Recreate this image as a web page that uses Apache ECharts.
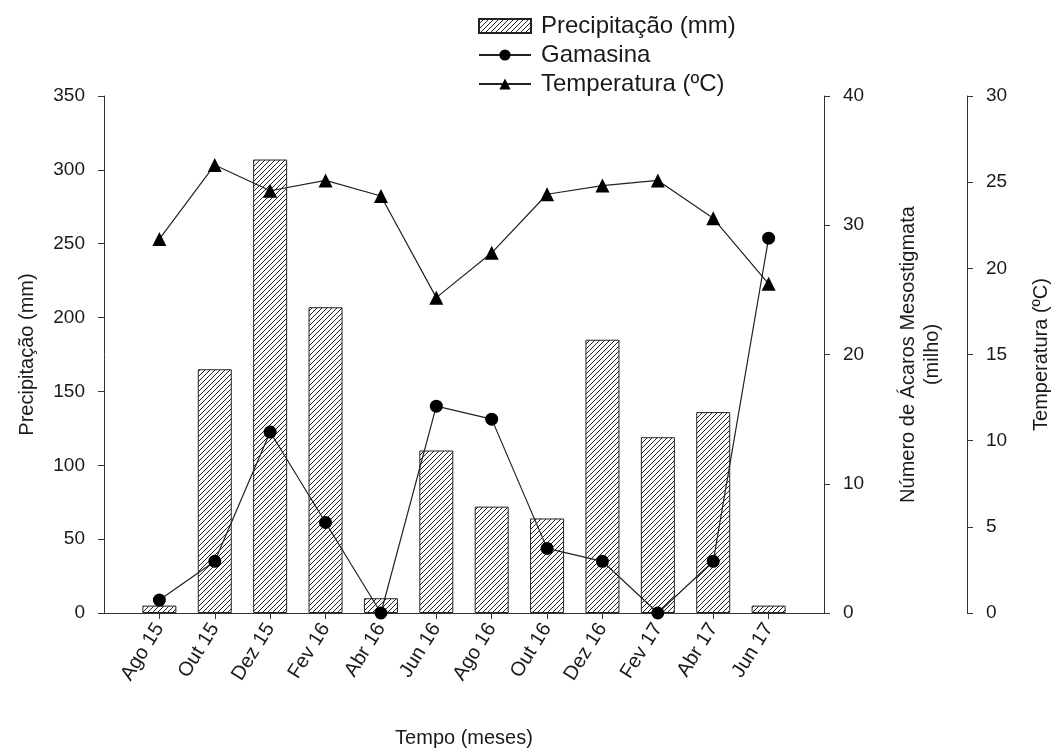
<!DOCTYPE html>
<html>
<head>
<meta charset="utf-8">
<script src="https://cdn.jsdelivr.net/npm/echarts@6/dist/echarts.min.js"></script>
<style>
  html, body { margin: 0; padding: 0; background: #fff; }
  #chart { width: 1056px; height: 756px; }
</style>
</head>
<body>
<div id="chart"></div>
<script>
// meses (bimestral)
const months = ["Ago 15", "Out 15", "Dez 15", "Fev 16", "Abr 16", "Jun 16",
  "Ago 16", "Out 16", "Dez 16", "Fev 17", "Abr 17", "Jun 17"];
const precip = [5, 165, 307, 207, 10, 110, 72, 64, 185, 119, 136, 5];
const gamasina = [1, 4, 14, 7, 0, 16, 15, 5, 4, 0, 4, 29];
const temperatura = [21.7, 26.0, 24.5, 25.1, 24.2, 18.3, 20.9, 24.3, 24.8, 25.1, 22.9, 19.1];

const font = "Liberation Sans";
const ink = "#1a1a1a";

// hachura diagonal das barras
function hatch() {
  const c = document.createElement("canvas");
  c.width = 5;
  c.height = 5;
  const ctx = c.getContext("2d");
  ctx.fillStyle = "#fff";
  ctx.fillRect(0, 0, 5, 5);
  ctx.strokeStyle = "#222";
  ctx.lineWidth = 1;
  ctx.beginPath();
  ctx.moveTo(-1, 6); ctx.lineTo(6, -1);
  ctx.moveTo(-1, 1); ctx.lineTo(1, -1);
  ctx.moveTo(4, 6); ctx.lineTo(6, 4);
  ctx.stroke();
  return { image: c, repeat: "repeat" };
}

const idx = months.map((m, i) => i);

function yAxis(opt) {
  return Object.assign({
    type: "value",
    splitLine: { show: false },
    axisLine: { show: true, onZero: false, lineStyle: { color: "#333", width: 1 } },
    axisTick: { show: true, inside: false, length: 6, lineStyle: { color: "#333" } },
    axisLabel: { color: ink, fontSize: 19, fontFamily: font, margin: 19 },
    nameLocation: "middle",
    nameRotate: 90,
    nameTextStyle: { color: ink, fontSize: 20, fontFamily: font, lineHeight: 24 }
  }, opt);
}

const chart = echarts.init(document.getElementById("chart"));
chart.setOption({
  animation: false,
  backgroundColor: "#fff",
  textStyle: { fontFamily: font },
  legend: {
    orient: "vertical",
    left: 473,
    top: 9,
    itemWidth: 52,
    itemHeight: 14,
    itemGap: 5,
    textStyle: { color: ink, fontSize: 24, fontFamily: font, padding: [0, 0, 0, 5] },
    data: [
      { name: "Precipitação (mm)", icon: "rect" },
      "Gamasina",
      "Temperatura (ºC)"
    ]
  },
  grid: { left: 104, right: 232, top: 96, bottom: 143, outerBoundsMode: "none" },
  xAxis: {
    type: "value",
    min: -1,
    max: 12,
    splitLine: { show: false },
    axisLine: { show: true, onZero: false, lineStyle: { color: "#333", width: 1 } },
    axisTick: { show: true, length: 6, customValues: idx, lineStyle: { color: "#333" } },
    axisLabel: {
      customValues: idx,
      formatter: v => months[v],
      rotate: 58,
      color: ink,
      fontSize: 20,
      fontFamily: font,
      margin: 12
    },
    name: "Tempo (meses)",
    nameLocation: "middle",
    nameGap: 115,
    nameTextStyle: { color: ink, fontSize: 20, fontFamily: font }
  },
  yAxis: [
    yAxis({ position: "left", min: 0, max: 350, interval: 50, name: "Precipitação (mm)", nameGap: 65 }),
    yAxis({ position: "right", min: 0, max: 40, interval: 10,
      name: "Número de Ácaros Mesostigmata\n(milho)", nameGap: 72 }),
    yAxis({ position: "right", offset: 143, min: 0, max: 30, interval: 5,
      name: "Temperatura (ºC)", nameGap: 62 })
  ],
  series: [
    {
      name: "Precipitação (mm)",
      type: "bar",
      yAxisIndex: 0,
      barWidth: 34,
      data: idx.map(i => [i, precip[i]]),
      itemStyle: { color: hatch(), borderColor: "#222", borderWidth: 1 }
    },
    {
      name: "Gamasina",
      type: "line",
      yAxisIndex: 1,
      symbol: "circle",
      symbolSize: 13,
      data: idx.map(i => [i, gamasina[i]]),
      itemStyle: { color: "#000" },
      lineStyle: { color: "#222", width: 1.2 }
    },
    {
      name: "Temperatura (ºC)",
      type: "line",
      yAxisIndex: 2,
      symbol: "triangle",
      symbolSize: 14,
      data: idx.map(i => [i, temperatura[i]]),
      itemStyle: { color: "#000" },
      lineStyle: { color: "#222", width: 1.2 }
    }
  ]
});
</script>
</body>
</html>
